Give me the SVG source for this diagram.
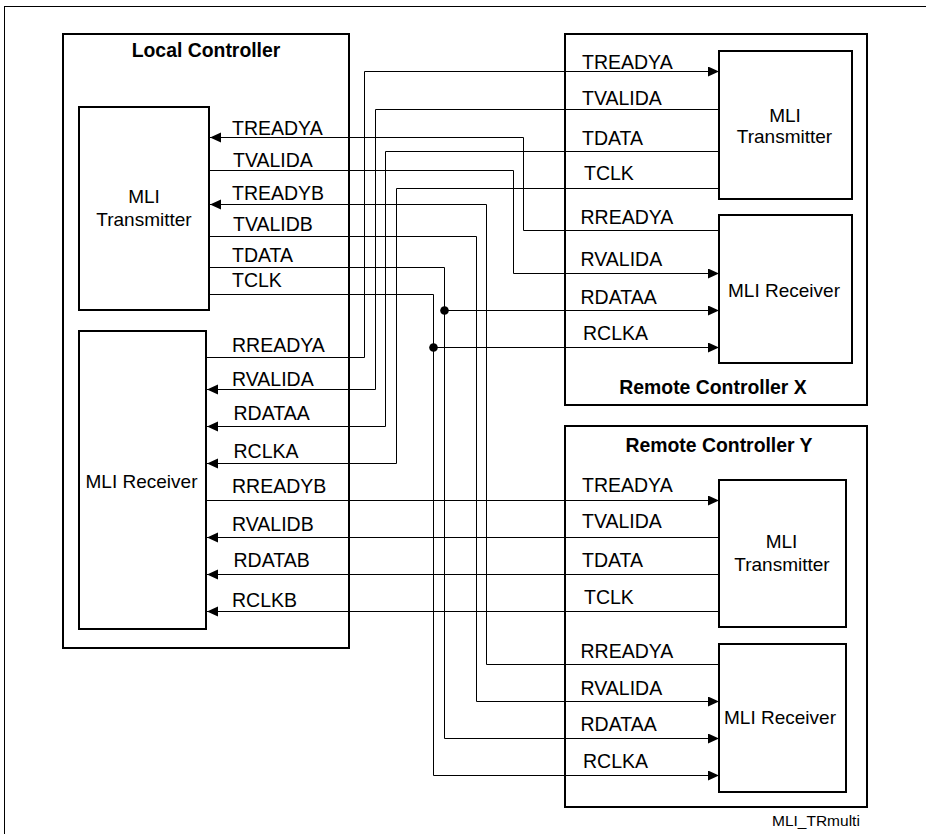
<svg xmlns="http://www.w3.org/2000/svg" width="926" height="834" viewBox="0 0 926 834">
<style>
.box{fill:none;stroke:#000;stroke-width:2}
.frame{fill:none;stroke:#000;stroke-width:1}
.w{fill:none;stroke:#000;stroke-width:1}
.wa{fill:none;stroke:#000;stroke-width:1;marker-end:url(#ah)}
text{font-family:"Liberation Sans",Arial,sans-serif;fill:#000}
.lbl{font-size:19.5px}
.blk{font-size:19px;text-anchor:middle}
.ttl{font-size:19.4px;font-weight:bold;text-anchor:middle}
.dot{fill:#000}
</style>
<defs>
<marker id="ah" markerUnits="userSpaceOnUse" markerWidth="12" markerHeight="11" refX="11" refY="5" orient="auto">
<path d="M0,0 L11,5 L0,10 z" fill="#000"/>
</marker>
</defs>
<rect class="frame" x="4.5" y="6.5" width="940" height="850"/>

<g id="local-controller">
<rect class="box" x="63" y="34" width="286" height="614"/>
<text class="ttl" x="206" y="57">Local Controller</text>
</g>
<g id="local-transmitter">
<rect class="box" x="79" y="107" width="130" height="203"/>
<text class="blk" x="144" y="203">MLI</text>
<text class="blk" x="144" y="226">Transmitter</text>
</g>
<g id="local-receiver">
<rect class="box" x="79" y="331" width="127" height="298"/>
<text class="blk" x="141.5" y="488">MLI Receiver</text>
</g>

<g id="remote-x">
<rect class="box" x="565" y="34" width="302" height="371"/>
<text class="ttl" x="713" y="394">Remote Controller X</text>
</g>
<g id="x-transmitter">
<rect class="box" x="719" y="51" width="133" height="148"/>
<text class="blk" x="785" y="121.5">MLI</text>
<text class="blk" x="784.5" y="143">Transmitter</text>
</g>
<g id="x-receiver">
<rect class="box" x="719" y="215" width="133" height="148"/>
<text class="blk" x="784" y="296.5">MLI Receiver</text>
</g>

<g id="remote-y">
<rect class="box" x="565" y="426" width="302" height="381"/>
<text class="ttl" x="719" y="451.5">Remote Controller Y</text>
</g>
<g id="y-transmitter">
<rect class="box" x="719" y="480" width="127" height="147"/>
<text class="blk" x="781.5" y="548">MLI</text>
<text class="blk" x="782" y="570.5">Transmitter</text>
</g>
<g id="y-receiver">
<rect class="box" x="719" y="644" width="127" height="148"/>
<text class="blk" x="780" y="724">MLI Receiver</text>
</g>

<g id="connectors">
<path class="wa" d="M206,357.5 H364.5 V71.5 H719"/>
<path class="wa" d="M719,109.5 H375.5 V389.5 H207"/>
<path class="wa" d="M719,151.5 H385.5 V426.5 H207"/>
<path class="wa" d="M719,188.5 H396.5 V463.5 H207"/>
<path class="wa" d="M719,230.5 H523.5 V137.5 H210"/>
<path class="wa" d="M209,170.5 H513.5 V273.5 H719"/>
<path class="wa" d="M719,664.5 H486.5 V204.5 H210"/>
<path class="wa" d="M209,236.5 H476.5 V701.5 H719"/>
<path class="wa" d="M209,267.5 H444.5 V738.5 H719"/>
<path class="wa" d="M444.5,310.5 H719"/>
<path class="wa" d="M209,294.5 H433.5 V775.5 H719"/>
<path class="wa" d="M433.5,347.5 H719"/>
<path class="wa" d="M206,500.5 H719"/>
<path class="wa" d="M719,537.5 H207"/>
<path class="wa" d="M719,574.5 H207"/>
<path class="wa" d="M719,611.5 H207"/>
<circle class="dot" cx="444.5" cy="310.5" r="4.3"/>
<circle class="dot" cx="433.5" cy="347.5" r="4.3"/>
</g>

<g id="labels">
<text class="lbl" x="232" y="134.5">TREADYA</text>
<text class="lbl" x="233" y="166.5">TVALIDA</text>
<text class="lbl" x="232" y="199.5">TREADYB</text>
<text class="lbl" x="233" y="230.5">TVALIDB</text>
<text class="lbl" x="232" y="261.5">TDATA</text>
<text class="lbl" x="232" y="287">TCLK</text>
<text class="lbl" x="232" y="351.5">RREADYA</text>
<text class="lbl" x="232" y="386">RVALIDA</text>
<text class="lbl" x="233.5" y="420">RDATAA</text>
<text class="lbl" x="233.5" y="457.5">RCLKA</text>
<text class="lbl" x="232" y="492.5">RREADYB</text>
<text class="lbl" x="232" y="530.5">RVALIDB</text>
<text class="lbl" x="233.5" y="566.5">RDATAB</text>
<text class="lbl" x="232" y="606.5">RCLKB</text>

<text class="lbl" x="582" y="69">TREADYA</text>
<text class="lbl" x="582" y="105">TVALIDA</text>
<text class="lbl" x="582" y="145">TDATA</text>
<text class="lbl" x="584" y="180">TCLK</text>
<text class="lbl" x="580.5" y="224">RREADYA</text>
<text class="lbl" x="580.5" y="265.5">RVALIDA</text>
<text class="lbl" x="580.5" y="304">RDATAA</text>
<text class="lbl" x="583" y="340">RCLKA</text>

<text class="lbl" x="582" y="492">TREADYA</text>
<text class="lbl" x="582" y="528">TVALIDA</text>
<text class="lbl" x="582" y="566.5">TDATA</text>
<text class="lbl" x="584" y="604">TCLK</text>
<text class="lbl" x="580.5" y="658">RREADYA</text>
<text class="lbl" x="580.5" y="695">RVALIDA</text>
<text class="lbl" x="580.5" y="731">RDATAA</text>
<text class="lbl" x="583" y="768">RCLKA</text>

<text x="772" y="826" font-size="15.5px">MLI_TRmulti</text>
</g>
</svg>
